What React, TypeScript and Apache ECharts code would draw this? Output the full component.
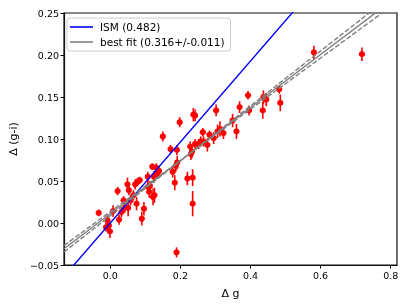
import { useEffect, useRef } from "react";
import * as echarts from "echarts";

// Δ g values
const dg = [
  -0.033, -0.012, -0.008, -0.004, -0.001, 0.008, 0.021, 0.025, 0.032, 0.038,
  0.041, 0.049, 0.053, 0.051, 0.058, 0.066, 0.071, 0.075, 0.078, 0.084,
  0.09, 0.096, 0.107, 0.107, 0.111, 0.113, 0.12, 0.122, 0.126, 0.125,
  0.131, 0.135, 0.139, 0.15, 0.172, 0.178, 0.184, 0.187, 0.19, 0.191,
  0.189, 0.198, 0.22, 0.228, 0.23, 0.233, 0.235, 0.235, 0.237, 0.242,
  0.242, 0.252, 0.258, 0.264, 0.266, 0.277, 0.283, 0.295, 0.302, 0.306,
  0.313, 0.323, 0.349, 0.36, 0.369, 0.393, 0.396, 0.435, 0.437, 0.445,
  0.482, 0.485, 0.581, 0.718,
];
// Δ (g-i) values
const dgi = [
  0.012, -0.005, 0.003, -0.003, -0.01, 0.014, 0.038, 0.004, 0.013, 0.027,
  0.018, 0.046, 0.039, 0.018, 0.027, 0.033, 0.046, 0.023, 0.049, 0.051,
  0.005, 0.017, 0.055, 0.043, 0.037, 0.044, 0.067, 0.031, 0.033, 0.055,
  0.066, 0.06, 0.062, 0.103, 0.088, 0.061, 0.048, 0.068, 0.087, 0.072,
  -0.035, 0.12, 0.053, 0.091, 0.082, 0.085, 0.054, 0.023, 0.129, 0.128,
  0.094, 0.094, 0.097, 0.108, 0.097, 0.093, 0.105, 0.101, 0.134, 0.109,
  0.112, 0.107, 0.122, 0.109, 0.138, 0.152, 0.134, 0.134, 0.15, 0.147,
  0.159, 0.143, 0.203, 0.201,
];
// error bars (half length)
const err = [
  0.004, 0.005, 0.007, 0.006, 0.008, 0.007, 0.005, 0.006, 0.006, 0.005,
  0.006, 0.008, 0.006, 0.01, 0.006, 0.006, 0.006, 0.008, 0.005, 0.004,
  0.008, 0.008, 0.006, 0.008, 0.007, 0.006, 0.004, 0.01, 0.009, 0.007,
  0.005, 0.006, 0.006, 0.006, 0.005, 0.007, 0.009, 0.007, 0.006, 0.008,
  0.006, 0.006, 0.008, 0.006, 0.007, 0.008, 0.01, 0.015, 0.008, 0.007,
  0.006, 0.006, 0.006, 0.005, 0.006, 0.008, 0.005, 0.007, 0.007, 0.008,
  0.009, 0.007, 0.008, 0.009, 0.007, 0.005, 0.006, 0.01, 0.008, 0.008,
  0.005, 0.01, 0.008, 0.008,
];

const xTicks = [0, 0.2, 0.4, 0.6, 0.8];
const yTicks = [-0.05, 0, 0.05, 0.1, 0.15, 0.2, 0.25];
const xRange = [-0.132, 0.818];

const ismSlope = 0.482;
const ismIntercept = 0.0;
const fitSlope = 0.316;
const fitSlopeErr = 0.011;
const fitIntercept = 0.011;
const fitPivot = 0.22;

const FONT = "DejaVu Sans";
const fmt = (v: number, d: number) => v.toFixed(d).replace("-", "\u2212");

export default function App() {
  const ref = useRef<HTMLDivElement>(null);
  useEffect(() => {
    if (!ref.current) return;
    const chart = echarts.init(ref.current, null, { renderer: "svg" });
    const pts = dg.map((x, i) => [x, dgi[i], err[i]]);
    const lineData = (s: number, b: number) => xRange.map((x) => [x, b + s * x]);
    const pivotY = fitIntercept + fitSlope * fitPivot;
    const dashData = (s: number) => xRange.map((x) => [x, pivotY + s * (x - fitPivot)]);
    chart.setOption({
      animation: false,
      textStyle: { fontFamily: FONT },
      grid: {
        left: 61,
        top: 13,
        width: 336,
        height: 252,
        show: true,
        borderColor: "#111",
        borderWidth: 1.2,
        backgroundColor: "transparent",
      },
      legend: {
        orient: "vertical",
        left: 67,
        top: 18,
        padding: [3, 6, 3, 3],
        itemGap: 3,
        itemWidth: 23,
        itemHeight: 1.6,
        icon: "rect",
        backgroundColor: "#fff",
        borderColor: "#cccccc",
        borderWidth: 1,
        borderRadius: 3,
        data: ["ISM (0.482)", "best fit (0.316+/-0.011)"],
        textStyle: {
          fontFamily: FONT,
          fontSize: 10.5,
          color: "#000",
          lineHeight: 12,
          padding: [0, 0, 0, 2],
        },
      },
      xAxis: {
        type: "value",
        min: xRange[0],
        max: xRange[1],
        name: "\u0394 g",
        nameLocation: "middle",
        nameGap: 23,
        nameTextStyle: { fontFamily: FONT, fontSize: 11, color: "#000" },
        splitLine: { show: false },
        axisLine: { show: true, onZero: false, lineStyle: { color: "#111", width: 1.2 } },
        axisTick: { show: true, length: 3.5, customValues: xTicks, lineStyle: { color: "#000" } },
        axisLabel: {
          customValues: xTicks,
          formatter: (v: number) => fmt(v, 1),
          fontFamily: FONT,
          fontSize: 9.5,
          color: "#000",
          margin: 5,
        },
      },
      yAxis: {
        type: "value",
        min: -0.05,
        max: 0.25,
        name: "\u0394 (g-i)",
        nameLocation: "middle",
        nameGap: 40,
        nameTextStyle: { fontFamily: FONT, fontSize: 11, color: "#000" },
        splitLine: { show: false },
        axisLine: { show: true, onZero: false, lineStyle: { color: "#111", width: 1.2 } },
        axisTick: { show: true, length: 3.5, customValues: yTicks, lineStyle: { color: "#000" } },
        axisLabel: {
          customValues: yTicks,
          formatter: (v: number) => fmt(v, 2),
          fontFamily: FONT,
          fontSize: 9.5,
          color: "#000",
          margin: 5,
        },
      },
      series: [
        {
          type: "custom",
          data: pts,
          clip: true,
          renderItem: (params: any, api: any) => {
            const x = api.value(0);
            const y = api.value(1);
            const e = api.value(2);
            const c = api.coord([x, y]);
            const t = api.coord([x, y + e]);
            const b = api.coord([x, y - e]);
            return {
              type: "group",
              children: [
                {
                  type: "line",
                  shape: { x1: t[0], y1: t[1], x2: b[0], y2: b[1] },
                  style: { stroke: "#ff0000", lineWidth: 1.6 },
                },
                {
                  type: "circle",
                  shape: { cx: c[0], cy: c[1], r: 3.1 },
                  style: { fill: "#ff0000" },
                },
              ],
            };
          },
        },
        {
          name: "ISM (0.482)",
          type: "line",
          data: lineData(ismSlope, ismIntercept),
          symbol: "none",
          showSymbol: false,
          lineStyle: { color: "#0000ff", width: 1.4 },
          itemStyle: { color: "#0000ff" },
          clip: true,
        },
        {
          name: "best fit (0.316+/-0.011)",
          type: "line",
          data: lineData(fitSlope, fitIntercept),
          symbol: "none",
          showSymbol: false,
          lineStyle: { color: "#808080", width: 1.4 },
          itemStyle: { color: "#808080" },
          clip: true,
        },
        {
          type: "line",
          data: dashData(fitSlope + fitSlopeErr),
          symbol: "none",
          showSymbol: false,
          lineStyle: { color: "#808080", width: 1.4, type: [5, 2] },
          clip: true,
        },
        {
          type: "line",
          data: dashData(fitSlope - fitSlopeErr),
          symbol: "none",
          showSymbol: false,
          lineStyle: { color: "#808080", width: 1.4, type: [5, 2] },
          clip: true,
        },
      ],
    });
    return () => chart.dispose();
  }, []);
  return (
    <div
      ref={ref}
      style={{ position: "fixed", left: 0, top: 0, width: 407, height: 305 }}
    />
  );
}
